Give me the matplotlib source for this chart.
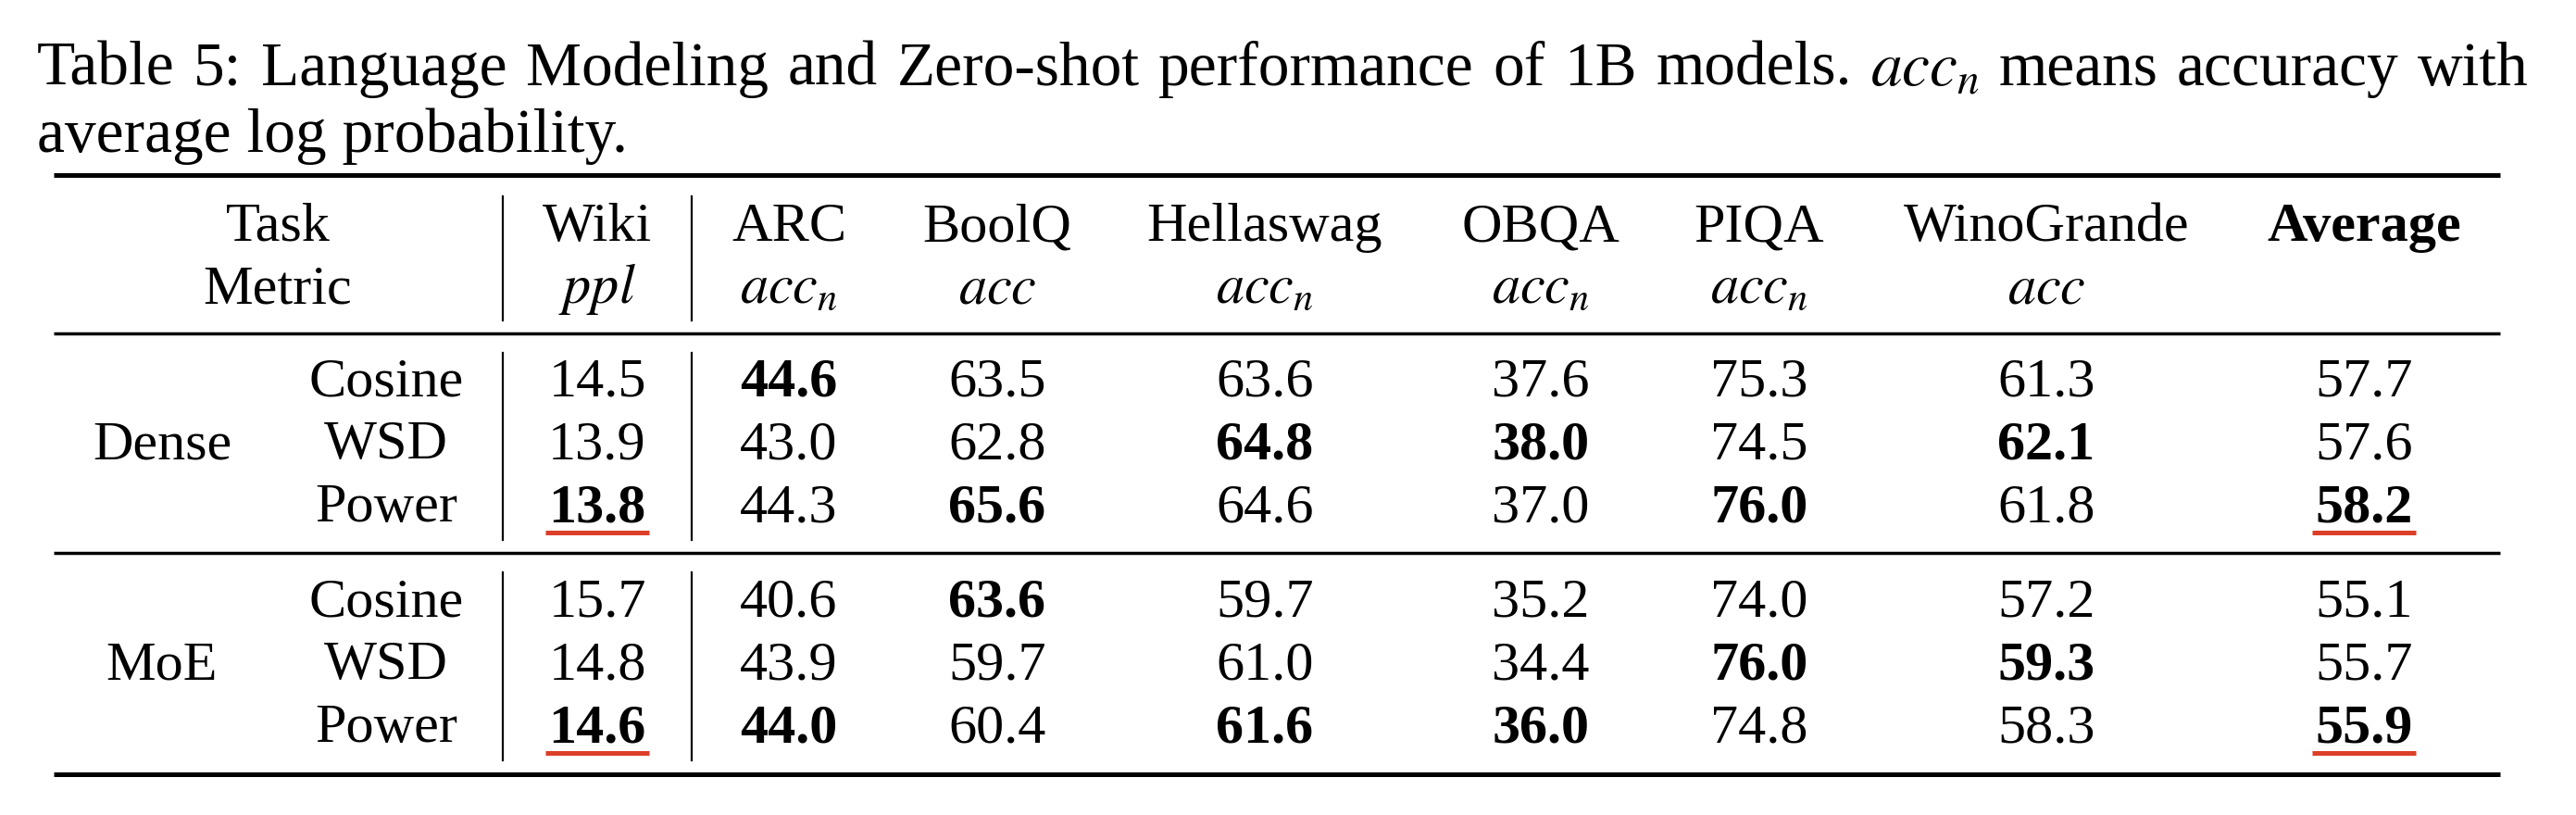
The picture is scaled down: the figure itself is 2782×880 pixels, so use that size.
import matplotlib
matplotlib.use('Agg')
import matplotlib.pyplot as plt

plt.rcParams['font.family'] = ['Liberation Serif', 'DejaVu Serif']
plt.rcParams['mathtext.fontset'] = 'stix'

# Tabela: cabeçalho e valores
tasks = ['Wiki', 'ARC', 'BoolQ', 'Hellaswag', 'OBQA', 'PIQA', 'WinoGrande', 'Average']
metrics = ['$ppl$', '$acc_n$', '$acc$', '$acc_n$', '$acc_n$', '$acc_n$', '$acc$', '']
groups = ['Dense', 'MoE']
schedules = ['Cosine', 'WSD', 'Power']

dense_vals = [
    [14.5, 44.6, 63.5, 63.6, 37.6, 75.3, 61.3, 57.7],
    [13.9, 43.0, 62.8, 64.8, 38.0, 74.5, 62.1, 57.6],
    [13.8, 44.3, 65.6, 64.6, 37.0, 76.0, 61.8, 58.2],
]
moe_vals = [
    [15.7, 40.6, 63.6, 59.7, 35.2, 74.0, 57.2, 55.1],
    [14.8, 43.9, 59.7, 61.0, 34.4, 76.0, 59.3, 55.7],
    [14.6, 44.0, 60.4, 61.6, 36.0, 74.8, 58.3, 55.9],
]
# (linha, coluna) em negrito
dense_bold = [(0, 1), (1, 3), (1, 4), (1, 6), (2, 0), (2, 2), (2, 5), (2, 7)]
moe_bold = [(0, 2), (1, 5), (1, 6), (2, 0), (2, 1), (2, 3), (2, 4), (2, 7)]
# sublinhado vermelho
dense_under = [(2, 0), (2, 7)]
moe_under = [(2, 0), (2, 7)]

caption_1 = 'Table 5: Language Modeling and Zero-shot performance of 1B models. $acc_n$ means accuracy with'
caption_2 = 'average log probability.'

W, H = 2782, 880
fig = plt.figure(figsize=(W / 100, H / 100), dpi=100)
ax = fig.add_axes([0, 0, 1, 1])
ax.set_xlim(0, W)
ax.set_ylim(H, 0)
ax.axis('off')

FS = 43.4
FS_CAP = 48.5
RED = '#dc3f28'

fig.canvas.draw()
renderer = fig.canvas.get_renderer()
inv = ax.transData.inverted()


def data_width(t):
    bb = t.get_window_extent(renderer)
    return inv.transform((bb.x1, 0))[0] - inv.transform((bb.x0, 0))[0]


# legenda justificada (como no LaTeX)
cap_left, cap_right = 40, 2731
words = caption_1.split(' ')
word_txt = [ax.text(0, 92, w, fontsize=FS_CAP, va='baseline', ha='left') for w in words]
widths = [data_width(t) for t in word_txt]
gap = (cap_right - cap_left - sum(widths)) / (len(words) - 1)
xpos = cap_left
for t, w in zip(word_txt, widths):
    t.set_x(xpos)
    xpos += w + gap
ax.text(cap_left, 164, caption_2, fontsize=FS_CAP, va='baseline', ha='left')

# posições das colunas / linhas
x_group = 175
x_sched = 417
x_head = 300
col_x = [645, 852, 1077, 1366, 1664, 1900, 2210, 2553]
x0, x1 = 58, 2700
vlines_x = [543, 747]
y_head = [260, 327]
y_dense = [427, 495, 563]
y_moe = [666, 733, 801]

# regras horizontais
ax.plot([x0, x1], [189, 189], color='black', lw=3.6, solid_capstyle='butt')
ax.plot([x0, x1], [360, 360], color='black', lw=2.5, solid_capstyle='butt')
ax.plot([x0, x1], [597, 597], color='black', lw=2.5, solid_capstyle='butt')
ax.plot([x0, x1], [836, 836], color='black', lw=3.6, solid_capstyle='butt')

# linhas verticais
for vx in vlines_x:
    for y_a, y_b in [(212, 346), (381, 583), (618, 821)]:
        ax.plot([vx, vx], [y_a, y_b], color='black', lw=1.6)

# cabeçalho
ax.text(x_head, y_head[0], 'Task', fontsize=FS, ha='center', va='baseline')
ax.text(x_head, y_head[1], 'Metric', fontsize=FS, ha='center', va='baseline')
for i, (t, m) in enumerate(zip(tasks, metrics)):
    ax.text(col_x[i], y_head[0], t, fontsize=FS, ha='center', va='baseline',
            fontweight='bold' if t == 'Average' else 'normal')
    if m:
        ax.text(col_x[i], y_head[1], m, fontsize=FS, ha='center', va='baseline')

underlined = []
blocks = [(groups[0], dense_vals, dense_bold, dense_under, y_dense),
          (groups[1], moe_vals, moe_bold, moe_under, y_moe)]
for gname, vals, bold, under, ys in blocks:
    ax.text(x_group, ys[1], gname, fontsize=FS, ha='center', va='baseline')
    for r, row in enumerate(vals):
        ax.text(x_sched, ys[r], schedules[r], fontsize=FS, ha='center', va='baseline')
        for c, v in enumerate(row):
            t = ax.text(col_x[c], ys[r], f'{v:.1f}', fontsize=FS, ha='center', va='baseline',
                        fontweight='bold' if (r, c) in bold else 'normal')
            if (r, c) in under:
                underlined.append((t, ys[r]))

for t, yb in underlined:
    w = data_width(t)
    xc = t.get_position()[0]
    ax.plot([xc - w / 2 - 3, xc + w / 2 + 3], [yb + 12, yb + 12], color=RED, lw=3.6,
            solid_capstyle='butt')

fig.savefig('out.png', dpi=100, facecolor='white')
